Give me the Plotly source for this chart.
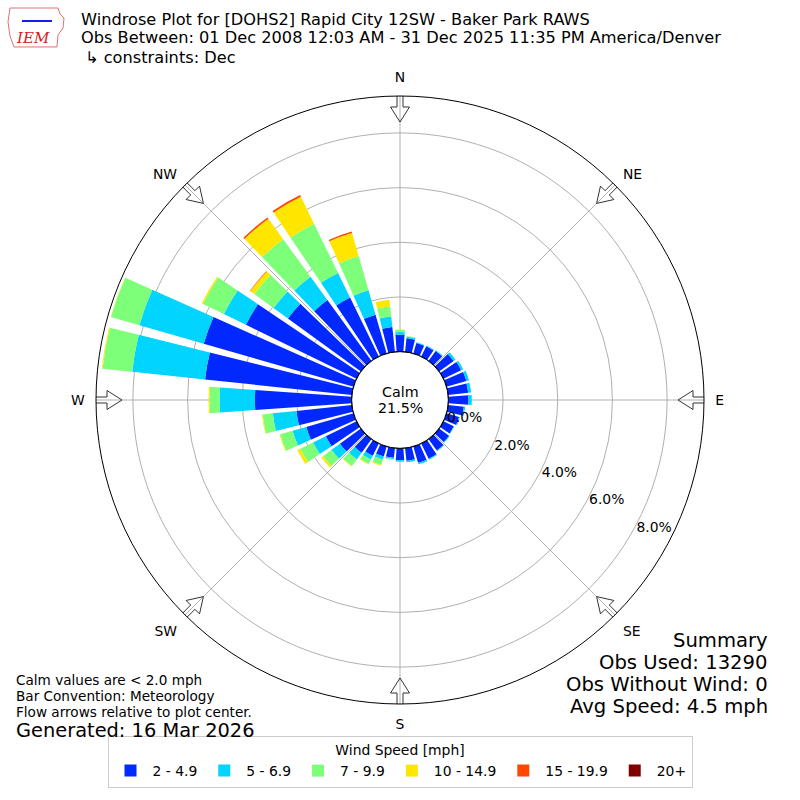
import math
import plotly.graph_objects as go

# wind directions (deg, 10 deg bins) and frequency (%) per speed bin
directions = list(range(0, 360, 10))
speed_bins = ["2 - 4.9", "5 - 6.9", "7 - 9.9", "10 - 14.9", "15 - 19.9", "20+"]
bin_colors = ["#0028ff", "#00d4ff", "#7dff7a", "#ffe600", "#ff4700", "#800000"]

spd_2_5 = [0.62, 0.50, 0.40, 0.42, 0.45, 0.66, 0.72, 0.76, 0.74, 0.74,
           0.58, 0.48, 0.42, 0.45, 0.52, 0.62, 0.62, 0.47, 0.44, 0.36,
           0.38, 0.50, 0.62, 0.95, 1.25, 1.80, 2.04, 3.54, 5.40, 5.70,
           4.50, 3.30, 2.75, 2.40, 1.48, 0.92]
spd_5_7 = [0.10, 0.06, 0.03, 0.03, 0.03, 0.08, 0.08, 0.10, 0.11, 0.12,
           0.05, 0.03, 0.02, 0.03, 0.03, 0.04, 0.06, 0.05, 0.05, 0.05,
           0.12, 0.16, 0.30, 0.38, 0.52, 0.52, 0.87, 1.29, 2.68, 2.45,
           0.90, 0.65, 1.05, 1.00, 0.93, 0.38]
spd_7_10 = [0.09, 0.03, 0.01, 0.01, 0.01, 0.01, 0.0, 0.0, 0.0, 0.0,
            0.0, 0.0, 0.0, 0.0, 0.0, 0.0, 0.0, 0.0, 0.0, 0.03,
            0.20, 0.18, 0.30, 0.38, 0.52, 0.47, 0.37, 0.37, 1.09, 1.08,
            0.85, 0.87, 1.70, 2.00, 1.30, 0.38]
spd_10_15 = [0.0, 0.0, 0.0, 0.0, 0.0, 0.0, 0.0, 0.0, 0.0, 0.0,
             0.0, 0.0, 0.0, 0.0, 0.0, 0.0, 0.0, 0.0, 0.0, 0.0,
             0.03, 0.02, 0.02, 0.08, 0.12, 0.03, 0.03, 0.04, 0.03, 0.01,
             0.05, 0.18, 0.92, 1.10, 0.88, 0.24]
spd_15_20 = [0.0] * 31 + [0.02, 0.06, 0.07, 0.05, 0.0]
spd_20_up = [0.0] * 36

calm_pct = 21.5
compass = ["N", "NE", "E", "SE", "S", "SW", "W", "NW"]
compass_deg = [0, 45, 90, 135, 180, 225, 270, 315]
radial_ticks = [0, 2, 4, 6, 8]
radial_labels = ["0.0%", "2.0%", "4.0%", "6.0%", "8.0%"]

R_MAX = 9.35
HOLE = 0.159
PLOT_PX = 304.0
HOLE_PX = PLOT_PX * HOLE
PX_PER_UNIT = (PLOT_PX - HOLE_PX) / R_MAX

FONT = "DejaVu Sans"

fig = go.Figure()

series = [spd_2_5, spd_5_7, spd_7_10, spd_10_15, spd_15_20, spd_20_up]
for name, color, vals in zip(speed_bins, bin_colors, series):
    fig.add_trace(go.Barpolar(
        r=vals, theta=directions, width=8, name=name,
        marker=dict(color=color, line=dict(width=0)),
    ))


def px_to_r(px):
    return (px - HOLE_PX) / PX_PER_UNIT


# hollow flow arrows at the 8 compass points, pointing to the centre
arrow_shape = [(307, -3), (293, -3), (293, -9.5), (278, 0),
               (293, 9.5), (293, 3), (307, 3), (307, -3)]
for d in compass_deg:
    rr, tt = [], []
    for dist, half in arrow_shape:
        rr.append(px_to_r(math.hypot(dist, half)))
        tt.append(d + math.degrees(math.atan2(half, dist)))
    fig.add_trace(go.Scatterpolar(
        r=rr, theta=tt, mode="lines", cliponaxis=False,
        line=dict(color="#333333", width=1),
        showlegend=False, hoverinfo="skip",
    ))

# inner circle at the calm hole
fig.add_trace(go.Scatterpolar(
    r=[0] * 361, theta=list(range(361)), mode="lines", cliponaxis=False,
    line=dict(color="black", width=1.2), showlegend=False, hoverinfo="skip",
))


def px(x, y):
    return x / 800.0, 1 - y / 800.0


annotations = []


def add_text(x, y, text, size, anchor="left", color="black", family=FONT):
    xx, yy = px(x, y)
    annotations.append(dict(
        x=xx, y=yy, xref="paper", yref="paper", text=text, showarrow=False,
        xanchor=anchor, yanchor="middle",
        font=dict(family=family, size=size, color=color),
    ))


add_text(79, 19, "Windrose Plot for [DOHS2] Rapid City 12SW - Baker Park RAWS", 16.2)
add_text(79, 38, "Obs Between: 01 Dec 2008 12:03 AM - 31 Dec 2025 11:35 PM America/Denver", 16.2)
add_text(83, 57, "\u21b3 constraints: Dec", 16.2)

add_text(400, 392, "Calm", 14.3, anchor="center")
add_text(400, 408, f"{calm_pct}%", 14.3, anchor="center")

add_text(14, 680, "Calm values are < 2.0 mph", 13.6)
add_text(14, 696, "Bar Convention: Meteorology", 13.6)
add_text(14, 712, "Flow arrows relative to plot center.", 13.6)
add_text(14, 730, "Generated: 16 Mar 2026", 19.4)

add_text(770, 640, "Summary", 19.6, anchor="right")
add_text(770, 662, "Obs Used: 13290", 19.6, anchor="right")
add_text(770, 684, "Obs Without Wind: 0", 19.6, anchor="right")
add_text(770, 706, "Avg Speed: 4.5 mph", 19.6, anchor="right")

# IEM logo (rough)
add_text(33, 38, "<i>IEM</i>", 15, anchor="center", color="#d42020",
         family="DejaVu Serif")
logo = [(10, 8), (58, 8), (60, 14), (64, 18), (63, 28), (58, 35),
        (57, 47), (14, 47), (10, 36), (8, 22), (10, 8)]
path = "M " + " L ".join(f"{px(x, y)[0]:.4f},{px(x, y)[1]:.4f}" for x, y in logo) + " Z"
shapes = [
    dict(type="path", path=path, xref="paper", yref="paper",
         line=dict(color="#e07070", width=1)),
    dict(type="line", xref="paper", yref="paper",
         x0=px(22, 21)[0], y0=px(22, 21)[1], x1=px(52, 21)[0], y1=px(52, 21)[1],
         line=dict(color="#1a1aff", width=2)),
]

fig.update_layout(
    width=800, height=800,
    margin=dict(l=0, r=0, t=0, b=0),
    paper_bgcolor="white",
    font=dict(family=FONT, size=13, color="black"),
    annotations=annotations,
    shapes=shapes,
    polar=dict(
        domain=dict(x=[0.12, 0.88], y=[0.12, 0.88]),
        hole=HOLE,
        bgcolor="white",
        barmode="stack",
        radialaxis=dict(
            range=[0, R_MAX], tickvals=radial_ticks, ticktext=radial_labels,
            showline=False, ticks="", side="counterclockwise",
            angle=-30, tickangle=-30, gridcolor="#b0b0b0", gridwidth=1,
            tickfont=dict(size=13.9, family=FONT),
        ),
        angularaxis=dict(
            rotation=90, direction="clockwise",
            tickvals=compass_deg, ticktext=compass,
            showline=True, linecolor="black", linewidth=1,
            ticks="outside", ticklen=8, tickcolor="rgba(0,0,0,0)",
            gridcolor="#b0b0b0", gridwidth=1,
            tickfont=dict(size=13.9, family=FONT),
        ),
    ),
    legend=dict(
        orientation="h", x=0.5, xanchor="center", y=0.015, yanchor="bottom",
        title=dict(text="Wind Speed [mph]", side="top center",
                   font=dict(size=13.9, family=FONT)),
        bordercolor="#cccccc", borderwidth=1, bgcolor="white",
        itemwidth=34, font=dict(size=13.9, family=FONT),
    ),
)

fig.write_html("out.html", config={"displayModeBar": False},
               post_script="document.body.style.margin='0px';")
